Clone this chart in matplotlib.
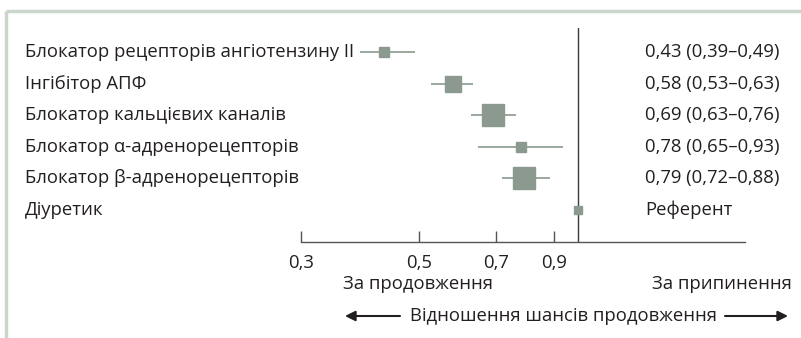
import matplotlib.pyplot as plt
import matplotlib.ticker as mticker
from matplotlib.transforms import blended_transform_factory

plt.rcParams["font.family"] = ["Open Sans", "DejaVu Sans"]

drugs = [
    "Блокатор рецепторів ангіотензину II",
    "Інгібітор АПФ",
    "Блокатор кальцієвих каналів",
    "Блокатор α-адренорецепторів",
    "Блокатор β-адренорецепторів",
    "Діуретик",
]
odds = [0.43, 0.58, 0.69, 0.78, 0.79, 1.0]
ci_low = [0.39, 0.53, 0.63, 0.65, 0.72, None]
ci_high = [0.49, 0.63, 0.76, 0.93, 0.88, None]
weights = [1.0, 1.6, 2.3, 1.0, 2.2, 0.8]
value_labels = [
    "0,43 (0,39–0,49)",
    "0,58 (0,53–0,63)",
    "0,69 (0,63–0,76)",
    "0,78 (0,65–0,93)",
    "0,79 (0,72–0,88)",
    "Референт",
]
ticks = [0.3, 0.5, 0.7, 0.9]
tick_labels = ["0,3", "0,5", "0,7", "0,9"]

FS = 13.3
INK = "#231f20"

W, H = 801, 338
fig = plt.figure(figsize=(W / 100, H / 100), dpi=100)

# light frame along the top and left edge
frame = fig.add_axes([0, 0, 1, 1])
frame.set_xlim(0, W)
frame.set_ylim(H, 0)
frame.axis("off")
frame.plot([6, W], [11, 11], color="#c9d6c9", lw=2.5, solid_capstyle="butt")
frame.plot([6, 6], [11, H], color="#c9d6c9", lw=2.5, solid_capstyle="butt")

left, right, top, axis_y = 301, 745, 28, 242
ax = fig.add_axes([left / W, (H - axis_y) / H, (right - left) / W, (axis_y - top) / H])
ax.set_xscale("log")
ax.set_xlim(0.3, 2.06)
ax.set_ylim(6.01, -0.76)
ax.patch.set_alpha(0)
for side in ("top", "right", "left"):
    ax.spines[side].set_visible(False)
ax.spines["bottom"].set_color("#555555")
ax.spines["bottom"].set_linewidth(1.0)
ax.yaxis.set_visible(False)
ax.xaxis.set_major_locator(mticker.FixedLocator(ticks))
ax.xaxis.set_major_formatter(mticker.FixedFormatter(tick_labels))
ax.xaxis.set_minor_locator(mticker.NullLocator())
ax.tick_params(axis="x", direction="in", length=8, width=1.0, color="#555555",
               labelsize=FS, pad=9, labelcolor=INK)

ax.axvline(1.0, color="#3a3a3a", lw=1.0, zorder=1)

for i in range(len(drugs)):
    if ci_low[i] is not None:
        ax.plot([ci_low[i], ci_high[i]], [i, i], color="#9aa89d", lw=1.4, zorder=2)
    ax.plot(odds[i], i, marker="s", ms=7.2 * weights[i], color="#8c998f",
            mec="#8c998f", zorder=3)

row_tf = blended_transform_factory(fig.transFigure, ax.transData)
for i in range(len(drugs)):
    ax.text(25 / W, i, drugs[i], transform=row_tf, ha="left", va="center",
            fontsize=FS, color=INK)
    ax.text(645 / W, i, value_labels[i], transform=row_tf, ha="left", va="center",
            fontsize=FS, color=INK)

fig.text(418 / W, 1 - 284 / H, "За продовження", ha="center", va="center",
         fontsize=FS, color=INK)
fig.text(722 / W, 1 - 284 / H, "За припинення", ha="center", va="center",
         fontsize=FS, color=INK)
fig.text(563 / W, 1 - 316 / H, "Відношення шансів продовження", ha="center",
         va="center", fontsize=FS, color=INK)
arrow = dict(arrowstyle="-|>", color=INK, lw=1.5, mutation_scale=15,
             shrinkA=0, shrinkB=0)
frame.annotate("", xy=(345, 316), xytext=(400, 316), arrowprops=arrow)
frame.annotate("", xy=(788, 316), xytext=(725, 316), arrowprops=arrow)

fig.savefig("out.png", dpi=100)
plt.close(fig)
